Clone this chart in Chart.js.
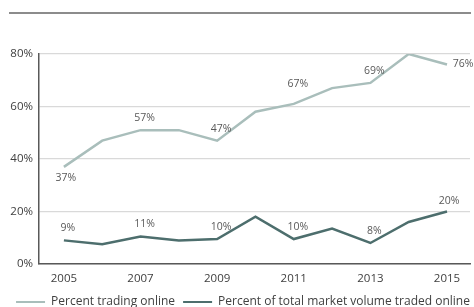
<!DOCTYPE html>
<html>
<head>
<meta charset="utf-8">
<script src="https://cdn.jsdelivr.net/npm/chart.js@4"></script>
<style>
  html, body { margin: 0; padding: 0; overflow: hidden; background: #fff; }
  #wrap { width: 474px; height: 316px; }
</style>
</head>
<body>
<div id="wrap"><canvas id="chart" width="474" height="316"></canvas></div>
<script>
// Data
const years = [2005, 2006, 2007, 2008, 2009, 2010, 2011, 2012, 2013, 2014, 2015];
const tradingOnline = [37, 47, 51, 51, 47, 58, 61, 67, 69, 80, 76];
const volumeOnline = [9, 7.5, 10.5, 9, 9.5, 18, 9.5, 13.5, 8, 16, 20];
const tradingLabels = ['37%', null, '57%', null, '47%', null, '67%', null, '69%', null, '76%'];
const volumeLabels = ['9%', null, '11%', null, '10%', null, '10%', null, '8%', null, '20%'];
const xTicks = [2005, 2007, 2009, 2011, 2013, 2015];
const yTicks = [0, 20, 40, 60, 80];

const FONT = '"Open Sans", "DejaVu Sans", sans-serif';

// horizontal rule above the chart
const topRule = {
  id: 'topRule',
  beforeDraw(chart) {
    const ctx = chart.ctx;
    ctx.save();
    ctx.strokeStyle = '#8c8c8c';
    ctx.lineWidth = 2;
    ctx.beginPath();
    ctx.moveTo(9, 13);
    ctx.lineTo(471, 13);
    ctx.stroke();
    ctx.restore();
  }
};

// legend in the reference sits a little right of centre and lower
const legendShift = {
  id: 'legendShift',
  afterLayout(chart) {
    const lg = chart.legend;
    lg.left += 8; lg.right += 8;
    lg.top += 2; lg.bottom += 2;
  }
};

// value labels next to selected points
const pointLabels = {
  id: 'pointLabels',
  afterDatasetsDraw(chart) {
    const ctx = chart.ctx;
    ctx.save();
    ctx.font = '10.5px ' + FONT;
    ctx.fillStyle = '#595959';
    ctx.textAlign = 'center';
    ctx.textBaseline = 'middle';
    [tradingLabels, volumeLabels].forEach((labels, di) => {
      const meta = chart.getDatasetMeta(di);
      labels.forEach((txt, i) => {
        if (!txt) return;
        const pt = meta.data[i];
        let dx = 4, dy = -12;
        if (di === 0 && i === 0) { dx = 2; dy = 11; }
        if (di === 0 && i === 6) { dy = -20; }
        if (di === 0 && i === 10) { dx = 16; dy = 0; }
        if (di === 1 && i === 10) { dx = 2; dy = -10; }
        ctx.fillText(txt, pt.x + dx, pt.y + dy);
      });
    });
    ctx.restore();
  }
};

new Chart(document.getElementById('chart'), {
  type: 'line',
  data: {
    datasets: [{
      label: 'Percent trading online',
      data: years.map((y, i) => ({ x: y, y: tradingOnline[i] })),
      borderColor: '#a9bebb',
      backgroundColor: '#a9bebb',
      borderWidth: 2.5,
      pointRadius: 0,
      tension: 0
    }, {
      label: 'Percent of total market volume traded online',
      data: years.map((y, i) => ({ x: y, y: volumeOnline[i] })),
      borderColor: '#4d6e6d',
      backgroundColor: '#4d6e6d',
      borderWidth: 2.5,
      pointRadius: 0,
      tension: 0
    }]
  },
  options: {
    responsive: false,
    animation: false,
    layout: { padding: { left: 0, right: 4, top: 54, bottom: 0 } },
    plugins: {
      legend: {
        position: 'bottom',
        labels: {
          boxWidth: 29,
          boxHeight: 2,
          color: '#404040',
          font: { family: FONT, size: 12 },
          padding: 8,
          generateLabels: chart => Chart.defaults.plugins.legend.labels.generateLabels(chart)
            .map(item => Object.assign(item, { lineWidth: 0 }))
        }
      },
      tooltip: { enabled: false }
    },
    scales: {
      x: {
        type: 'linear',
        min: 2004.35,
        max: 2015.6,
        afterBuildTicks: s => { s.ticks = xTicks.map(v => ({ value: v })); },
        afterFit: s => { s.height = 22; },
        grid: { display: false, drawTicks: false },
        border: { display: true, color: '#595959', width: 1.5 },
        ticks: {
          color: '#404040',
          font: { family: FONT, size: 11.5 },
          padding: 8,
          maxRotation: 0,
          callback: v => String(v)
        }
      },
      y: {
        min: 0,
        max: 80,
        afterBuildTicks: s => { s.ticks = yTicks.map(v => ({ value: v })); },
        afterFit: s => { s.width = 39; },
        grid: { color: '#d9d9d9', lineWidth: 1.2, drawTicks: false },
        border: { display: true, color: '#595959', width: 1.5 },
        ticks: {
          color: '#404040',
          font: { family: FONT, size: 11.5 },
          padding: 6,
          callback: v => v + '%'
        }
      }
    }
  },
  plugins: [topRule, legendShift, pointLabels]
});
</script>
</body>
</html>
